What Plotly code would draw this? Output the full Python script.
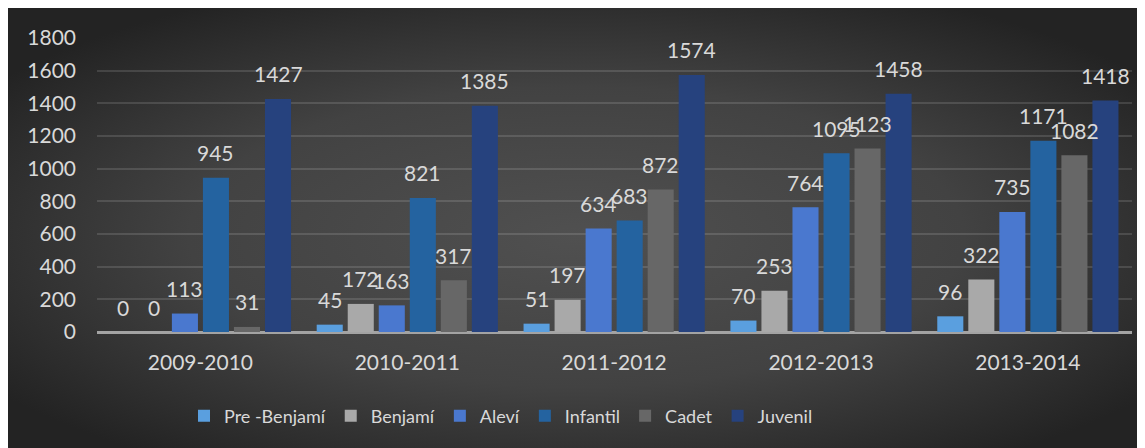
import base64
import plotly.graph_objects as go

categories = ["2009-2010", "2010-2011", "2011-2012", "2012-2013", "2013-2014"]
series_names = ["Pre -Benjamí", "Benjamí", "Aleví", "Infantil", "Cadet", "Juvenil"]
pre_benjami = [0, 45, 51, 70, 96]
benjami = [0, 172, 197, 253, 322]
alevi = [113, 163, 634, 764, 735]
infantil = [945, 821, 683, 1095, 1171]
cadet = [31, 317, 872, 1123, 1082]
juvenil = [1427, 1385, 1574, 1458, 1418]
y_ticks = [0, 200, 400, 600, 800, 1000, 1200, 1400, 1600, 1800]

series_values = [pre_benjami, benjami, alevi, infantil, cadet, juvenil]
colors = ["#5a9fdf", "#a9a9a9", "#4a78cf", "#2463a0", "#676767", "#26427e"]

W, H = 1137, 440
ML, MR, MT, MB = 89, 13, 30, 116
PW, PH = W - ML - MR, H - MT - MB
BARGAP = 0.10
BARGROUPGAP = 0.16

TXT = "#d9d9d9"
FONT = "Lato, 'Open Sans', sans-serif"

svg = """<svg xmlns='http://www.w3.org/2000/svg' width='1137' height='440' preserveAspectRatio='none'>
<defs><radialGradient id='g' cx='50%' cy='52%' r='62%'>
<stop offset='0' stop-color='#505050'/><stop offset='0.55' stop-color='#424242'/><stop offset='1' stop-color='#232323'/>
</radialGradient></defs>
<rect width='1137' height='440' fill='url(#g)'/></svg>"""
bg_src = "data:image/svg+xml;base64," + base64.b64encode(svg.encode()).decode()

fig = go.Figure()
for name, vals, col in zip(series_names, series_values, colors):
    fig.add_trace(go.Bar(x=categories, y=vals, name=name, marker=dict(color=col, line=dict(width=0))))

n = len(series_names)
slot = PW / len(categories) * (1 - BARGAP) / n
annotations = []
for i, vals in enumerate(series_values):
    for cat, v in zip(categories, vals):
        annotations.append(dict(
            x=cat, y=v, xref="x", yref="y", text=str(v), showarrow=False,
            xshift=(i - (n - 1) / 2) * slot, yshift=25, yanchor="middle",
            font=dict(family=FONT, size=21, color=TXT)))

fig.update_layout(
    width=W, height=H,
    margin=dict(l=ML, r=MR, t=MT, b=MB),
    paper_bgcolor="#333333", plot_bgcolor="rgba(0,0,0,0)",
    barmode="group", bargap=BARGAP, bargroupgap=BARGROUPGAP,
    font=dict(family=FONT, color=TXT),
    annotations=annotations,
    images=[dict(source=bg_src, xref="paper", yref="paper",
                 x=-ML / PW, y=(MT + PH) / PH,
                 sizex=W / PW, sizey=H / PH,
                 sizing="stretch", xanchor="left", yanchor="top", layer="below")],
    legend=dict(orientation="h", x=(493 - ML) / PW, xanchor="center",
                y=(MT + PH - 408) / PH, yanchor="middle",
                font=dict(family=FONT, size=18, color=TXT), bgcolor="rgba(0,0,0,0)",
                itemwidth=30, traceorder="normal"),
    showlegend=True,
)
fig.update_xaxes(showgrid=False, tickfont=dict(family=FONT, size=21, color=TXT),
                 ticks="", ticklabelstandoff=16, showline=False)
fig.update_yaxes(range=[0, 1800], tickvals=y_ticks, showgrid=True,
                 gridcolor="rgba(255,255,255,0.13)", gridwidth=1.5,
                 zeroline=True, zerolinecolor="#a3a3a3", zerolinewidth=2.5,
                 tickfont=dict(family=FONT, size=21, color=TXT), ticks="",
                 ticklabelstandoff=20)

fig.write_html("out.html")
